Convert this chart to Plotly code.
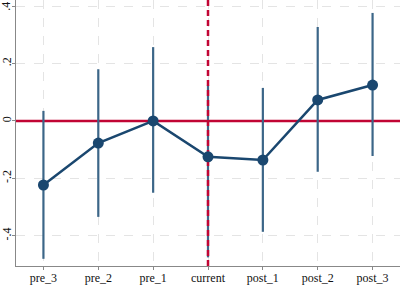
import plotly.graph_objects as go

categories = ["pre_3", "pre_2", "pre_1", "current", "post_1", "post_2", "post_3"]
coef = [-0.223, -0.077, 0.0, -0.125, -0.136, 0.073, 0.125]
ci_low = [-0.48, -0.334, -0.25, -0.475, -0.386, -0.177, -0.122]
ci_high = [0.035, 0.18, 0.257, 0.125, 0.115, 0.327, 0.376]
ytick_vals = [-0.4, -0.2, 0, 0.2, 0.4]
ytick_text = ["-.4", "-.2", "0", ".2", ""]
top_label = ".4"

navy = "#1a476f"
ciblue = "#3c6688"
red = "#c10534"

fig = go.Figure()
# horizontal zero line
fig.add_trace(go.Scatter(x=[-0.5, 6.5], y=[0, 0], mode="lines",
                         line=dict(color=red, width=2.5), hoverinfo="skip",
                         showlegend=False))
# CI lines
cx, cy = [], []
for i in range(len(categories)):
    cx += [i, i, None]
    cy += [ci_low[i], ci_high[i], None]
fig.add_trace(go.Scatter(x=cx, y=cy, mode="lines",
                         line=dict(color=ciblue, width=2.2), showlegend=False))
# vertical dashed line at current
ic = categories.index("current")
fig.add_trace(go.Scatter(x=[ic, ic], y=[-0.505, 0.421], mode="lines",
                         line=dict(color=red, width=2.5, dash="6px,4px"),
                         hoverinfo="skip", showlegend=False))
# point estimates
fig.add_trace(go.Scatter(x=list(range(len(categories))), y=coef, mode="lines+markers",
                         line=dict(color=navy, width=2.5),
                         marker=dict(color=navy, size=11), showlegend=False))

font = dict(family="Liberation Serif, Times New Roman, serif", size=12, color="#111")
fig.add_annotation(text=top_label, xref="paper", x=-0.027, yref="y", y=0.4,
                   textangle=-90, showarrow=False, xanchor="center", yanchor="middle",
                   font=font)
fig.update_layout(
    width=400, height=286,
    margin=dict(l=16, r=0, t=0, b=20, autoexpand=False),
    paper_bgcolor="white", plot_bgcolor="white",
    font=font,
    xaxis=dict(range=[-0.5, 6.5], tickmode="array", automargin=False,
               tickvals=list(range(len(categories))), ticktext=categories,
               showgrid=True, gridcolor="#e4e4e4", griddash="dash", gridwidth=1,
               showline=True, linecolor="#888", linewidth=1.2,
               ticks="outside", ticklen=3, tickcolor="#888", zeroline=False,
               ticklabelstandoff=-3),
    yaxis=dict(range=[-0.505, 0.421], tickmode="array", automargin=False,
               tickvals=ytick_vals, ticktext=ytick_text, tickangle=-90,
               showgrid=True, gridcolor="#e4e4e4", griddash="dash", gridwidth=1,
               showline=True, linecolor="#888", linewidth=1.2,
               ticks="outside", ticklen=3, tickcolor="#888", zeroline=False,
               ticklabelstandoff=-4),
)
fig.write_html("out.html", config={"displayModeBar": False},
               post_script="document.body.style.margin='0';document.body.style.overflow='hidden';")
